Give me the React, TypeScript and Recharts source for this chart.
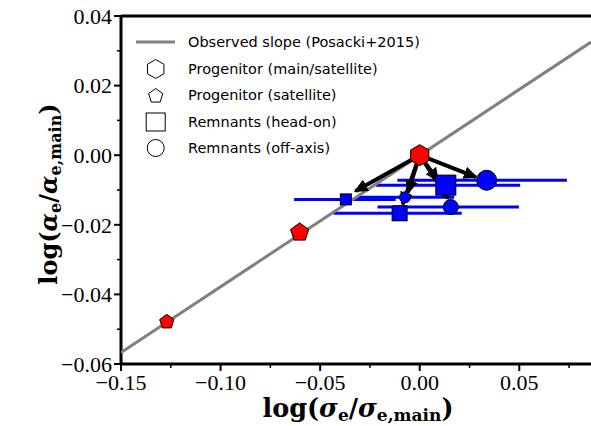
import React from 'react';
import { ScatterChart, Scatter, XAxis, YAxis, ErrorBar, ReferenceLine, Legend, Label } from 'recharts';

// ---- data ----
const slopeX = [-0.15, 0.086];
const slopeY = [-0.0567, 0.0325];

const mainX = [0.0];
const mainY = [0.0];

const satX = [-0.0603, -0.127];
const satY = [-0.0219, -0.0476];

const headOnX = [-0.0371, 0.0131, -0.0101];
const headOnY = [-0.0127, -0.0086, -0.0167];
const headOnErrLo = [0.026, 0.0352, 0.0332];
const headOnErrHi = [0.025, 0.0373, 0.0312];

const offAxisX = [-0.0074, 0.0336, 0.0156];
const offAxisY = [-0.0121, -0.0072, -0.0149];
const offAxisErrLo = [0.024, 0.0448, 0.0368];
const offAxisErrHi = [0.0247, 0.0403, 0.0342];

const arrowTipX = [-0.0322, -0.0059, 0.0091, 0.0282, 0.0141, -0.0086];
const arrowTipY = [-0.0103, -0.0107, -0.0072, -0.0063, -0.0124, -0.0141];

const xTicksMajor = [-0.15, -0.1, -0.05, 0, 0.05];
const xTicksMinor = [-0.125, -0.075, -0.025, 0.025, 0.075];
const yTicksMajor = [-0.06, -0.04, -0.02, 0, 0.02, 0.04];
const yTicksMinor = [-0.05, -0.03, -0.01, 0.01, 0.03];

const legendLabels = [
  'Observed slope (Posacki+2015)',
  'Progenitor (main/satellite)',
  'Progenitor (satellite)',
  'Remnants (head-on)',
  'Remnants (off-axis)',
];

// ---- styles ----
const mainSize = 21;
const satSize = [19, 15];
const headOnSize = [11, 20, 15];
const offAxisSize = [11, 20, 15];
const BLUE = '#0000ff';
const RED = '#ff0000';
const TICK_FONT = '"Liberation Serif", "DejaVu Serif", serif';
const LABEL_FONT = '"DejaVu Serif", "Liberation Serif", serif';

// ---- derived tables ----
const pts = (xs: number[], ys: number[]) => xs.map((x, i) => ({ x, y: ys[i], i }));
const slopeData = pts(slopeX, slopeY);
const mainData = pts(mainX, mainY);
const satData = pts(satX, satY);
const headOnData = headOnX.map((x, i) => ({ x, y: headOnY[i], i, err: [headOnErrLo[i], headOnErrHi[i]] }));
const offAxisData = offAxisX.map((x, i) => ({ x, y: offAxisY[i], i, err: [offAxisErrLo[i], offAxisErrHi[i]] }));
const arrowData = arrowTipX.map((x, i) => [
  { x: mainX[0], y: mainY[0] },
  { x, y: arrowTipY[i] },
]);

const fmt = (v: number) => {
  const s = Math.abs(v).toFixed(2);
  return v < -1e-9 ? '\u2212' + s : s;
};
const isMajor = (v: number, majors: number[]) => majors.some((m) => Math.abs(m - v) < 1e-9);

const polygon = (cx: number, cy: number, r: number, n: number) => {
  const p: string[] = [];
  for (let k = 0; k < n; k++) {
    const a = (-90 + (360 / n) * k) * (Math.PI / 180);
    p.push(`${cx + r * Math.cos(a)},${cy + r * Math.sin(a)}`);
  }
  return p.join(' ');
};

const Hexagon = (props: any) => {
  const { cx, cy } = props;
  if (cx == null) return <g />;
  return <polygon points={polygon(cx, cy, mainSize / 2, 6)} fill={RED} stroke="#000" strokeWidth={1} />;
};
const Pentagon = (props: any) => {
  const { cx, cy, payload } = props;
  if (cx == null) return <g />;
  const s = satSize[payload.i];
  return <polygon points={polygon(cx, cy + 1, s / 2, 5)} fill={RED} stroke="#000" strokeWidth={1} />;
};
const Square = (props: any) => {
  const { cx, cy, payload } = props;
  if (cx == null) return <g />;
  const s = headOnSize[payload.i];
  return <rect x={cx - s / 2} y={cy - s / 2} width={s} height={s} fill={BLUE} stroke="#000" strokeWidth={1} />;
};
const Circle = (props: any) => {
  const { cx, cy, payload } = props;
  if (cx == null) return <g />;
  const s = offAxisSize[payload.i];
  return <circle cx={cx} cy={cy} r={s / 2} fill={BLUE} stroke="#000" strokeWidth={1} />;
};
const Nothing = () => <g />;

const XTick = (props: any) => {
  const { x, y, payload } = props;
  const major = isMajor(payload.value, xTicksMajor);
  return (
    <g>
      <line x1={x} y1={y} x2={x} y2={y + (major ? 7 : 4)} stroke="#000" strokeWidth={major ? 2 : 1.5} />
      {major && (
        <text x={x} y={y + 26} textAnchor="middle" style={{ fontFamily: TICK_FONT, fontSize: 22 }} fill="#000">
          {fmt(payload.value)}
        </text>
      )}
    </g>
  );
};

const YTick = (props: any) => {
  const { x, y, payload } = props;
  const major = isMajor(payload.value, yTicksMajor);
  return (
    <g>
      <line x1={x} y1={y} x2={x - (major ? 7 : 4)} y2={y} stroke="#000" strokeWidth={major ? 2 : 1.5} />
      {major && (
        <text x={x - 9} y={y} dy="0.35em" textAnchor="end" style={{ fontFamily: TICK_FONT, fontSize: 22 }} fill="#000">
          {fmt(payload.value)}
        </text>
      )}
    </g>
  );
};

const MathLabel = ({ sym, sub }: { sym: string; sub: number }) => (
  <>
    <tspan>log(</tspan>
    <tspan fontStyle="italic">{sym}</tspan>
    <tspan fontSize={sub} dy={4}>e</tspan>
    <tspan dy={-4}>/</tspan>
    <tspan fontStyle="italic">{sym}</tspan>
    <tspan fontSize={sub} dy={4}>e,main</tspan>
    <tspan dy={-4}>)</tspan>
  </>
);

const XLabelContent = () => (
  <text x={358} y={417} textAnchor="middle" style={{ fontFamily: LABEL_FONT, fontWeight: 'bold', fontSize: 25.5 }} fill="#000">
    <MathLabel sym={'\u03c3'} sub={17} />
  </text>
);

const YLabelContent = () => {
  const x = 57;
  const cy = 194;
  return (
    <text x={x} y={cy} transform={`rotate(-90, ${x}, ${cy})`} textAnchor="middle" style={{ fontFamily: LABEL_FONT, fontWeight: 'bold', fontSize: 24 }} fill="#000">
      <MathLabel sym={'\u03b1'} sub={16} />
    </text>
  );
};

const LegendSymbol = ({ k }: { k: number }) => {
  const cx = 25.7;
  const cy = 13;
  const st = { fill: 'none', stroke: '#000', strokeWidth: 1 };
  if (k === 0) return <line x1={6} y1={cy} x2={45} y2={cy} stroke="#808080" strokeWidth={3} />;
  if (k === 1) return <polygon points={polygon(cx, cy, 9.5, 6)} {...st} />;
  if (k === 2) return <polygon points={polygon(cx, cy + 1, 7.5, 5)} {...st} />;
  if (k === 3) return <rect x={cx - 9.5} y={cy - 9} width={19} height={18} {...st} />;
  return <circle cx={cx} cy={cy} r={8.5} {...st} />;
};

const LegendContent = () => (
  <div style={{ fontFamily: '"DejaVu Sans", sans-serif', fontSize: 14.5, color: '#000', lineHeight: '26.5px' }}>
    {legendLabels.map((lab, k) => (
      <div key={k} style={{ display: 'flex', alignItems: 'center', height: 26.5, whiteSpace: 'nowrap' }}>
        <svg width={58} height={26} style={{ flex: 'none' }}>
          <LegendSymbol k={k} />
        </svg>
        <span>{lab}</span>
      </div>
    ))}
  </div>
);

export default function App() {
  return (
    <div style={{ position: 'absolute', left: 0, top: 0, width: 591, height: 426, background: '#fff' }}>
      <ScatterChart width={591} height={426} margin={{ top: 16, right: 0, bottom: 0, left: 0 }}>
        <defs>
          <marker id="arrowHead" viewBox="0 0 14 13" markerWidth={14} markerHeight={13} refX={12} refY={6.5} orient="auto" markerUnits="userSpaceOnUse">
            <path d="M0,0 L14,6.5 L0,13 z" fill="#000" />
          </marker>
        </defs>
        <XAxis
          type="number"
          dataKey="x"
          domain={[-0.15, 0.086]}
          allowDataOverflow
          ticks={[...xTicksMajor, ...xTicksMinor].sort((a, b) => a - b)}
          interval={0}
          height={62}
          tickSize={0}
          tickMargin={0}
          tickLine={false}
          axisLine={{ stroke: '#000', strokeWidth: 3 }}
          tick={<XTick />}
        >
          <Label content={<XLabelContent />} />
        </XAxis>
        <YAxis
          type="number"
          dataKey="y"
          domain={[-0.06, 0.04]}
          allowDataOverflow
          ticks={[...yTicksMajor, ...yTicksMinor].sort((a, b) => a - b)}
          interval={0}
          width={121}
          tickSize={0}
          tickMargin={0}
          tickLine={false}
          axisLine={{ stroke: '#000', strokeWidth: 3 }}
          tick={<YTick />}
        >
          <Label content={<YLabelContent />} />
        </YAxis>
        <ReferenceLine y={0.04} stroke="#000" strokeWidth={3} />
        <Legend layout="horizontal" verticalAlign="middle" align="center" content={<LegendContent />} wrapperStyle={{ left: 130, top: 29, width: 'auto', height: 'auto' }} />

        <Scatter data={slopeData} line={{ stroke: '#808080', strokeWidth: 3 }} shape={<Nothing />} isAnimationActive={false} legendType="none" />

        <Scatter data={headOnData} shape={<Nothing />} isAnimationActive={false} legendType="none">
          <ErrorBar dataKey="err" direction="x" width={0} stroke={BLUE} strokeWidth={3} isAnimationActive={false} />
        </Scatter>
        <Scatter data={offAxisData} shape={<Nothing />} isAnimationActive={false} legendType="none">
          <ErrorBar dataKey="err" direction="x" width={0} stroke={BLUE} strokeWidth={3} isAnimationActive={false} />
        </Scatter>

        {arrowData.map((d, k) => (
          <Scatter key={k} data={d} line={{ stroke: '#000', strokeWidth: 4, markerEnd: 'url(#arrowHead)' }} shape={<Nothing />} isAnimationActive={false} legendType="none" />
        ))}

        <Scatter data={headOnData} shape={<Square />} isAnimationActive={false} legendType="none" />
        <Scatter data={offAxisData} shape={<Circle />} isAnimationActive={false} legendType="none" />
        <Scatter data={satData} shape={<Pentagon />} isAnimationActive={false} legendType="none" />
        <Scatter data={mainData} shape={<Hexagon />} isAnimationActive={false} legendType="none" />
      </ScatterChart>
    </div>
  );
}
